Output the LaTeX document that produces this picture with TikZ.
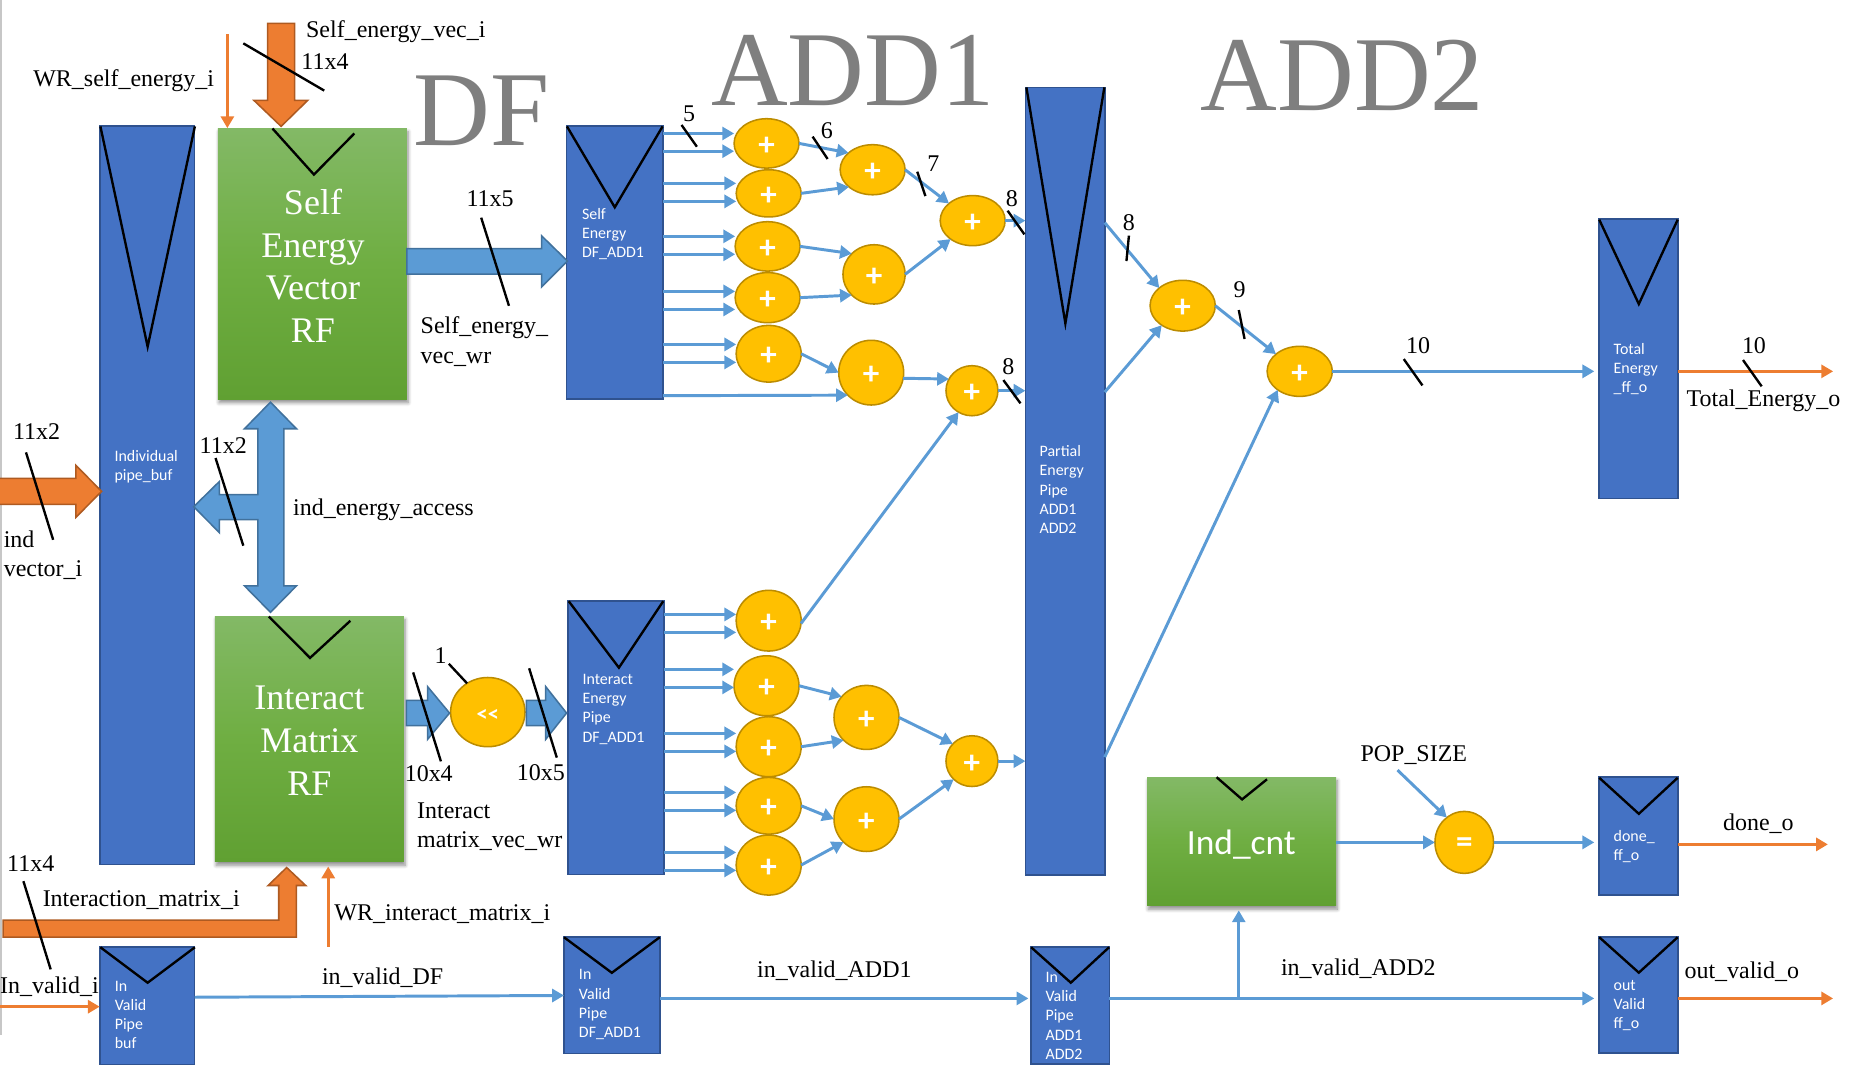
\documentclass[tikz,border=0pt]{standalone}
\usepackage{fontspec}
\setmainfont{Liberation Serif}
\newfontfamily\calfont{Carlito}
\usetikzlibrary{arrows.meta,shapes.geometric,shadows.blur}
\definecolor{blk}{HTML}{4472C4}
\definecolor{blkedge}{HTML}{2F528F}
\definecolor{lblue}{HTML}{5B9BD5}
\definecolor{lblueedge}{HTML}{41719C}
\definecolor{orng}{HTML}{ED7D31}
\definecolor{orngedge}{HTML}{AE5A21}
\definecolor{addfill}{HTML}{FFC000}
\definecolor{addedge}{HTML}{BC8C00}
\definecolor{bigtxt}{HTML}{7F7F7F}
\definecolor{green1}{HTML}{83B966}
\definecolor{green2}{HTML}{60A032}
\definecolor{green3}{HTML}{6FAE42}
\tikzset{
 pipeblock/.style={rectangle,fill=blk,draw=blkedge,line width=1.5pt,inner sep=0,outer sep=0},
 greenblock/.style={rectangle,top color=green1,bottom color=green2,middle color=green3,inner sep=0,outer sep=0,blur shadow={shadow xshift=1pt,shadow yshift=-3pt,shadow blur radius=3pt,shadow opacity=45,shadow blur steps=6}},
 adder/.style={ellipse,fill=addfill,draw=addedge,line width=1.3pt,inner sep=0,outer sep=0},
 addsign/.style={inner sep=0,yshift=-2.5pt,text=white,font=\calfont\bfseries\fontsize{28}{28}\selectfont},
 vmark/.style={draw=black,line width=2pt,line join=miter},
 bar/.style={draw=black,line width=2pt},
 link/.style={draw=lblue,line width=2.5pt,-{Triangle[width=11pt,length=10pt]}},
 olink/.style={draw=orng,line width=2.5pt,-{Triangle[width=11pt,length=10pt]}},
 bigblue/.style={fill=lblue,draw=lblueedge,line width=1.3pt,line join=miter},
 bigorange/.style={fill=orng,draw=orngedge,line width=1.3pt,line join=miter},
 txt/.style={inner sep=0,yshift=-2pt,font=\fontsize{20.3}{25}\selectfont,text=black,align=left},
 num/.style={inner sep=0,font=\fontsize{20.3}{25}\selectfont,text=black,align=left},
 blocktxt/.style={inner sep=0,yshift=-1.5pt,font=\calfont\fontsize{13.5}{16.2}\selectfont,text=white,align=left,anchor=west},
 rftxt/.style={inner sep=0,font=\fontsize{30.5}{36.3}\selectfont,text=white,align=center},
 bigword/.style={inner sep=0,font=\fontsize{90}{90}\selectfont,text=bigtxt},
}
\newcommand{\boxat}[6]{\node[#1,minimum width=#5pt-#3pt,minimum height=#6pt-#4pt] (#2) at ({(#3+#5)/2},{(#4+#6)/2}) {};}
\newcommand{\addat}[6]{\node[adder,minimum width=2*#4pt,minimum height=2*#5pt,label={[addsign]center:#6}] (#1) at (#2,#3) {};}
\begin{document}
\begin{tikzpicture}[x=1pt,y=-1pt]
\useasboundingbox (0,0) rectangle (1568,907.6);
\fill[black!22] (0,0) rectangle (1.6,876);
% big words
\node[bigword] (wdf) at (408,94) {DF};
\node[bigword] (wadd1) at (722,60) {ADD1};
\node[bigword] (wadd2) at (1136.5,64) {ADD2};
% pipe blocks
\boxat{pipeblock}{ind}{84.4}{106.6}{164.7}{732}
\boxat{pipeblock}{sdf}{479.6}{106.4}{561.3}{338}
\boxat{pipeblock}{idf}{480.9}{508.6}{561.9}{740.3}
\boxat{pipeblock}{part}{868.2}{74}{935.3}{740.9}
\boxat{pipeblock}{tot}{1353.8}{185.7}{1420.4}{422}
\boxat{pipeblock}{vbuf}{84.4}{801.5}{164.7}{901.2}
\boxat{pipeblock}{vdf}{477.5}{793}{558.6}{891.9}
\boxat{pipeblock}{vadd}{872.7}{801.6}{939.3}{900.9}
\boxat{pipeblock}{vout}{1353.8}{793}{1420.4}{891.8}
\boxat{pipeblock}{done}{1353.8}{658}{1420.4}{758}
% green blocks
\boxat{greenblock}{serf}{184.5}{108.5}{344.5}{338}
\boxat{greenblock}{imrf}{182}{521.6}{342}{729.6}
\boxat{greenblock}{cnt}{971.2}{657.9}{1131.2}{766.8}
% clock marks
\draw[vmark] (85,107) -- (125,293.5) -- (165,107);
\draw[vmark] (480,107) -- (520.5,175.5) -- (561,107);
\draw[vmark] (481.5,509) -- (524,565.3) -- (561.5,509);
\draw[vmark] (869,74) -- (902,273.8) -- (935,74);
\draw[vmark] (1354,186) -- (1387.5,257.4) -- (1420.4,186);
\draw[vmark] (85,802) -- (125,832) -- (165,802);
\draw[vmark] (477.5,793.5) -- (518,823.6) -- (558.6,793.5);
\draw[vmark] (873,802) -- (906.6,832) -- (939,802);
\draw[vmark] (1354,793.5) -- (1387.5,823.5) -- (1420.4,793.5);
\draw[vmark] (1354,658.5) -- (1387.5,689) -- (1420.4,658.5);
\draw[vmark] (230.7,108.8) -- (265.8,147.8) -- (300,113);
\draw[vmark] (227.6,522) -- (262.5,557) -- (296.6,525.6);
\draw[vmark] (1030,658) -- (1051.6,676.8) -- (1072.7,659.8);
% block labels
\node[blocktxt] (tind) at (96.8,393.5) {Individual\\pipe\_buf};
\node[blocktxt] (tsdf) at (492.6,196.5) {Self\\Energy\\DF\_ADD1};
\node[blocktxt] (tidf) at (493,599) {Interact\\Energy\\Pipe\\DF\_ADD1};
\node[blocktxt] (tpart) at (880,413) {Partial\\Energy\\Pipe\\ADD1\\ADD2};
\node[blocktxt] (ttot) at (1366,311) {Total\\Energy\\\_ff\_o};
\node[blocktxt] (tvbuf) at (97,858) {In\\Valid\\Pipe\\buf};
\node[blocktxt] (tvdf) at (490,849) {In\\Valid\\Pipe\\DF\_ADD1};
\node[blocktxt] (tvadd) at (885,858.5) {In\\Valid\\Pipe\\ADD1\\ADD2};
\node[blocktxt] (tvout) at (1366,850) {out\\Valid\\ff\_o};
\node[blocktxt] (tdone) at (1366,715.5) {done\_\\ff\_o};
\node[rftxt] (tserf) at (265,225) {Self\\Energy\\Vector\\RF};
\node[rftxt] (timrf) at (262,627) {Interact\\Matrix\\RF};
\node[inner sep=0,text=white,font=\calfont\fontsize{30}{30}\selectfont] (tcnt) at (1051,715) {Ind\_cnt};
% adders
\addat{s1}{649}{121.4}{27.5}{20.9}{+}
\addat{s2}{650.8}{163.7}{27.5}{20}{+}
\addat{s3}{649.9}{208.6}{27.5}{20.9}{+}
\addat{s4}{649.9}{252}{27.5}{21.2}{+}
\addat{s5}{650.8}{299.5}{27.5}{24}{+}
\addat{t1}{738.8}{143.7}{27.5}{21.2}{+}
\addat{t2}{740}{232.3}{26.3}{25.1}{+}
\addat{t3}{737.6}{315.5}{27.5}{27.4}{+}
\addat{u1}{823.5}{186.8}{27.5}{21.2}{+}
\addat{u2}{822.9}{330.8}{22}{21.2}{+}
\addat{i1}{650.8}{525.5}{27.5}{25.7}{+}
\addat{i2}{649}{580.6}{27.5}{25.4}{+}
\addat{i3}{650.8}{632.2}{27.5}{25.4}{+}
\addat{i4}{650.8}{682.2}{27.5}{24}{+}
\addat{i5}{650.8}{732.4}{27.5}{25.4}{+}
\addat{j1}{733.6}{607.4}{27.5}{27.1}{+}
\addat{j2}{733.6}{693.5}{27.5}{27.4}{+}
\addat{k1}{822.9}{644.4}{22}{21.5}{+}
\addat{v1}{1001.3}{258.8}{27.6}{21.5}{+}
\addat{v2}{1100.4}{314.4}{27.6}{21.2}{+}
\addat{eq}{1239.7}{713.2}{24.8}{26.2}{=}
\node[adder,minimum width=63pt,minimum height=58.6pt,label={[addsign,font=\calfont\bfseries\fontsize{19}{19}\selectfont]center:<<}] (shf) at (413,602.9) {};
% block to first-level adders
\foreach \a/\y in {s1/113,s1/128,s2/155.2,s2/170.5,s3/200.1,s3/215.3,s4/246.7,s4/262,s5/291.6,s5/306.8}
  \draw[link] (sdf.east |- 0,\y) -- (\a.west |- 0,\y);
\draw[link] (sdf.east |- 0,335) -- (t3.224);
\foreach \a/\y in {i1/520.2,i1/535.4,i2/566.7,i2/582,i3/620.9,i3/636.2,i4/670.9,i4/686.1,i5/721.7,i5/736.9}
  \draw[link] (idf.east |- 0,\y) -- (\a.west |- 0,\y);
% adder tree
\draw[link] (s1.east) -- (t1.145);
\draw[link] (s2.east) -- (t1.216);
\draw[link] (s3.east) -- (t2.137);
\draw[link] (s4.east) -- (t2.223);
\draw[link] (s5.east) -- (t3.west);
\draw[link] (t3.350) -- (u2.153);
\draw[link] (t1.east) -- (u1.144);
\draw[link] (t2.east) -- (u1.220);
\draw[link] (u1.east) -- (part.west |- u1.east);
\draw[link] (u2.east) -- (part.west |- u2.east);
\draw[link] (i1.355) -- (u2.238);
\draw[link] (i2.east) -- (j1.140);
\draw[link] (i3.east) -- (j1.225);
\draw[link] (i4.east) -- (j2.west);
\draw[link] (i5.east) -- (j2.225);
\draw[link] (j1.east) -- (k1.138);
\draw[link] (j2.east) -- (k1.225);
\draw[link] (k1.east) -- (part.west |- k1.east);
\draw[link] (part.east |- 0,188.5) -- (v1.143);
\draw[link] (part.east |- 0,332) -- (v1.223);
\draw[link] (v1.east) -- (v2.144);
\draw[link] (part.east |- 0,641) -- (v2.220);
\draw[link,shorten >=4pt] (v2.east) -- (tot.west |- v2.east);
\draw[olink] (tot.east |- v2.east) -- (1552,314.4);
% lower rows
\coordinate (popsrc) at (1183.2,652);
\draw[link] (popsrc) -- (eq.125);
\draw[link] (cnt.east |- eq.west) -- (eq.west);
\draw[link,shorten >=4pt] (eq.east) -- (done.west |- eq.east);
\coordinate (doneout) at (1547.6,714.9);
\draw[olink] (done.east |- doneout) -- (doneout);
\draw[link] (vbuf.east |- 0,844.3) -- (vdf.west |- 0,842.8);
\draw[link,shorten >=2pt] (vdf.east |- 0,845.3) -- (vadd.west |- 0,845.3);
\draw[link,shorten >=4pt] (vadd.east |- 0,845.3) -- (vout.west |- 0,845.3);
\coordinate (vjunc) at (1048.8,845.3);
\draw[link,shorten >=4pt] (vjunc) -- (vjunc |- cnt.south);
\coordinate (voutend) at (1552,845.3);
\draw[olink] (vout.east |- voutend) -- (voutend);
\coordinate (wrself) at (192.5,29);
\draw[olink] (wrself) -- (wrself |- serf.north);
\coordinate (wrint) at (277.9,801.5);
\draw[olink,shorten >=4pt] (wrint) -- (wrint |- imrf.south);
\coordinate (invalid) at (0,852.3);
\draw[olink] (invalid) -- (vbuf.west |- invalid);
% fat arrows
\draw[bigorange] (226.6,19.8) -- (249.4,19.8) -- (249.4,85) -- (260.5,85) -- (238,107) -- (215,85) -- (226.6,85) -- cycle;
\draw[bigorange] (-2,405) -- (64.3,405) -- (64.3,394) -- (86,416) -- (64.3,438) -- (64.3,427) -- (-2,427) -- cycle;
\draw[bigorange] (2.7,779) -- (236,779) -- (236,749.7) -- (227,749.7) -- (242.7,734.5) -- (258.8,749.7) -- (251,749.7) -- (251,793.4) -- (2.7,793.4) -- cycle;
\draw[bigblue] (344.5,210.5) -- (458.6,210.5) -- (458.6,199.7) -- (480.4,221) -- (458.6,242.9) -- (458.6,232) -- (344.5,232) -- cycle;
\draw[bigblue] (229,340.5) -- (251,363) -- (240.4,363) -- (240.4,496) -- (251,496) -- (229,518.4) -- (207,496) -- (218.3,496) -- (218.3,440) -- (185.8,440) -- (185.8,451) -- (164,429) -- (185.8,407.6) -- (185.8,418.7) -- (218.3,418.7) -- (218.3,363) -- (207,363) -- cycle;
\draw[bigblue] (344,593) -- (362,593) -- (362,581.3) -- (380.6,603.7) -- (362,626) -- (362,614.4) -- (344,614.4) -- cycle;
\draw[bigblue] (445.6,593) -- (462,593) -- (462,581.3) -- (479.7,603.7) -- (462,626) -- (462,614.4) -- (445.6,614.4) -- cycle;
% bus bars
\draw[bar] (206,36.7) -- (274.5,76.7);
\draw[bar] (407.4,184.3) -- (430.9,258.9);
\draw[bar] (22,383) -- (45,457);
\draw[bar] (182.5,387.8) -- (206,462);
\draw[bar] (349.8,569.3) -- (373.3,644.6);
\draw[bar] (448,565.8) -- (471.4,641.4);
\draw[bar] (380,562) -- (395.4,578.5);
\draw[bar] (19.8,746) -- (42.9,820.7);
\draw[bar] (577,105.8) -- (590,124.2);
\draw[bar] (688,115.7) -- (700.7,134.6);
\draw[bar] (776.6,145.4) -- (783.5,166);
\draw[bar] (853.1,178.4) -- (867.3,198.4);
\draw[bar] (849.5,321.8) -- (864,341.5);
\draw[bar] (955.8,199.5) -- (953.7,221);
\draw[bar] (1048.8,262.5) -- (1053.7,287);
\draw[bar] (1188.5,304) -- (1204.3,326.3);
\draw[bar] (1475.7,304.8) -- (1491.5,327.1);
% signal labels
\node[txt,anchor=west] (l1) at (259,25) {Self\_energy\_vec\_i};
\node[num,anchor=west] (l2) at (255,52) {11x4};
\node[txt,anchor=west] (l3) at (28,66) {WR\_self\_energy\_i};
\node[num] (l4) at (415,168) {11x5};
\node[txt,anchor=west] (l5) at (356,287) {Self\_energy\_\\vec\_wr};
\node[num] (l6) at (31,365) {11x2};
\node[num] (l7) at (189,377) {11x2};
\node[txt,anchor=west] (l8) at (3,468) {ind\\vector\_i};
\node[txt,anchor=west] (l9) at (248,430) {ind\_energy\_access};
\node[num] (l10) at (373,555) {1};
\node[num] (l11) at (363,655) {10x4};
\node[num] (l12) at (458,654) {10x5};
\node[txt,anchor=west] (l13) at (353,698) {Interact\\matrix\_vec\_wr};
\node[num] (l14) at (26,731) {11x4};
\node[txt,anchor=west] (l15) at (36,760) {Interaction\_matrix\_i};
\node[txt,anchor=west] (l16) at (283,772) {WR\_interact\_matrix\_i};
\node[txt,anchor=west] (l17) at (0,833) {In\_valid\_i};
\node[txt] (l18) at (324,826) {in\_valid\_DF};
\node[txt] (l19) at (706.4,820) {in\_valid\_ADD1};
\node[txt] (l20) at (1150,818) {in\_valid\_ADD2};
\node[num] (l21) at (583.4,96) {5};
\node[num] (l22) at (700,110.9) {6};
\node[num] (l23) at (790.2,138.9) {7};
\node[num] (l24) at (856.7,168) {8};
\node[num] (l25) at (853.7,310.5) {8};
\node[num] (l26) at (955.8,188.2) {8};
\node[num] (l27) at (1049.6,245.5) {9};
\node[num] (l28) at (1200.7,293) {10};
\node[num] (l29) at (1485,293) {10};
\node[txt,anchor=west] (l30) at (1427.8,337.3) {Total\_Energy\_o};
\node[txt] (l31) at (1197,637) {POP\_SIZE};
\node[txt] (l32) at (1488.7,695) {done\_o};
\node[txt,anchor=west] (l33) at (1426,820.7) {out\_valid\_o};
\end{tikzpicture}
\end{document}
